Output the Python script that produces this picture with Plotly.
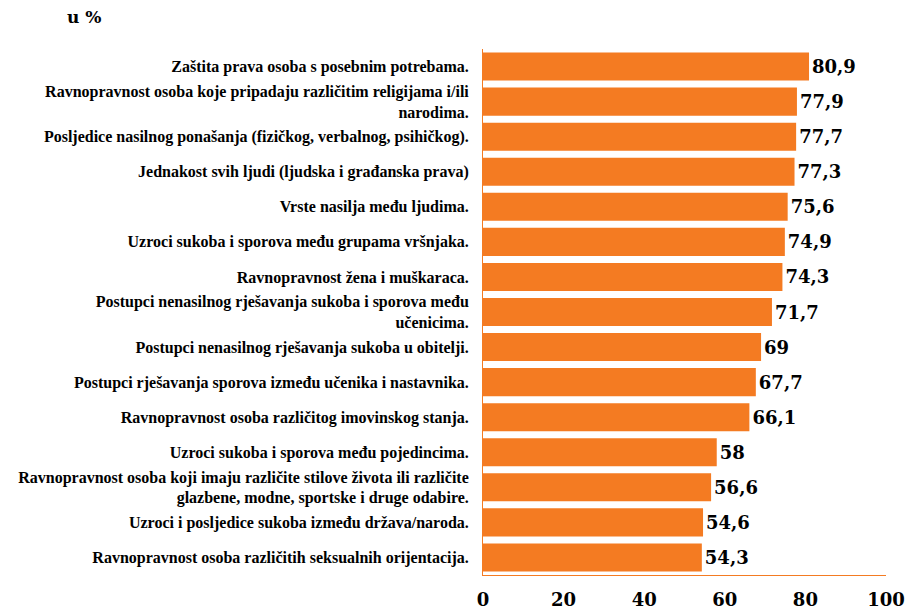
import plotly.graph_objects as go

categories = [
    'Zaštita prava osoba s posebnim potrebama.',
    'Ravnopravnost osoba koje pripadaju različitim religijama i/ili<br>narodima.',
    'Posljedice nasilnog ponašanja (fizičkog, verbalnog, psihičkog).',
    'Jednakost svih ljudi (ljudska i građanska prava)',
    'Vrste nasilja među ljudima.',
    'Uzroci sukoba i sporova među grupama vršnjaka.',
    'Ravnopravnost žena i muškaraca.',
    'Postupci nenasilnog rješavanja sukoba i sporova među<br>učenicima.',
    'Postupci nenasilnog rješavanja sukoba u obitelji.',
    'Postupci rješavanja sporova između učenika i nastavnika.',
    'Ravnopravnost osoba različitog imovinskog stanja.',
    'Uzroci sukoba i sporova među pojedincima.',
    'Ravnopravnost osoba koji imaju različite stilove života ili različite<br>glazbene, modne, sportske i druge odabire.',
    'Uzroci i posljedice sukoba između država/naroda.',
    'Ravnopravnost osoba različitih seksualnih orijentacija.',
]
values = [80.9, 77.9, 77.7, 77.3, 75.6, 74.9, 74.3, 71.7, 69, 67.7, 66.1, 58, 56.6, 54.6, 54.3]
x_ticks = [0, 20, 40, 60, 80, 100]

labels = [('%g' % v).replace('.', ',') for v in values]
orange = '#F47B22'

# page body adds an 8px offset, so margins are shifted to compensate
m_left, m_right, m_top, m_bottom = 475, 38, 41, 42
plot_w = 916 - m_left - m_right

fig = go.Figure()
fig.add_trace(go.Bar(
    y=categories[::-1], x=values[::-1], orientation='h',
    marker=dict(color=orange, line=dict(width=0)),
    text=labels[::-1], textposition='outside', cliponaxis=False,
    textfont=dict(family='DejaVu Serif', size=18, color='black', weight='bold'),
    width=0.8,
))

fig.update_layout(
    width=916, height=609,
    margin=dict(l=m_left, r=m_right, t=m_top, b=m_bottom),
    plot_bgcolor='white', paper_bgcolor='white',
    showlegend=False,
)
# "u %" label above the category labels
fig.add_annotation(text='<b>u %</b>', xref='paper', yref='paper', x=-(m_left - 57) / plot_w, y=1.0,
                   xanchor='left', yanchor='middle', yshift=32, showarrow=False,
                   font=dict(family='DejaVu Serif', size=17, color='black'))
fig.update_xaxes(range=[0, 100], tickvals=x_ticks, showgrid=False, zeroline=False,
                 showline=True, linecolor=orange, linewidth=1, automargin=False,
                 ticklabelstandoff=8,
                 tickfont=dict(family='DejaVu Serif', size=18, color='black', weight='bold'))
fig.update_yaxes(showgrid=False, showline=True, linecolor=orange, linewidth=1,
                 ticks='', ticklabelstandoff=10, automargin=False,
                 tickfont=dict(family='Liberation Serif', size=16, color='black', weight='bold'))

fig.write_html("out.html")
